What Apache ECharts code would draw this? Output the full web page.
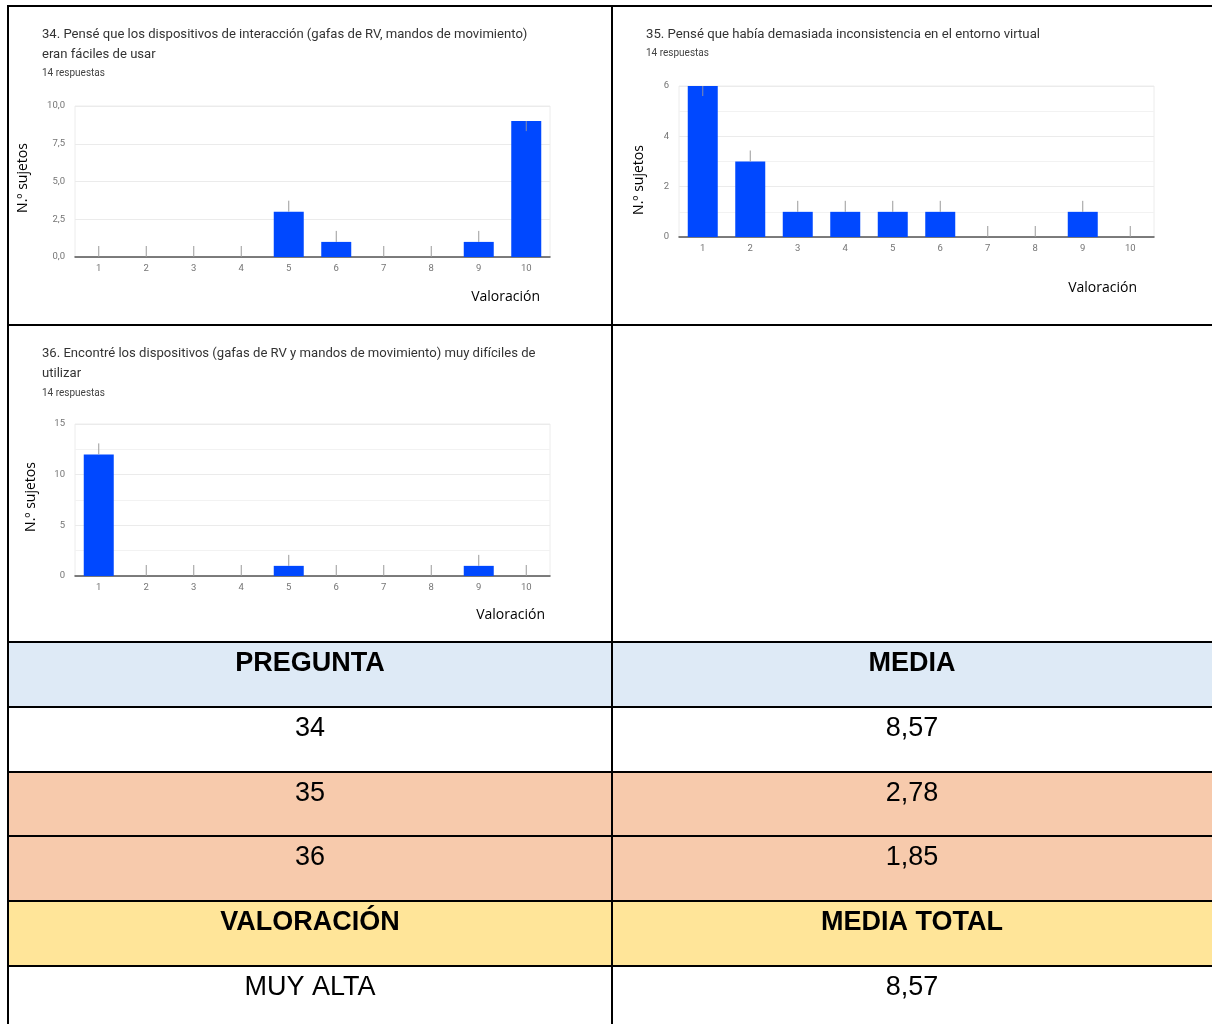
<!DOCTYPE html>
<html>
<head>
<meta charset="utf-8">
<script src="https://cdn.jsdelivr.net/npm/echarts@6/dist/echarts.min.js"></script>
<style>
  html, body { margin: 0; padding: 0; background: #fff; }
  #main { width: 1212px; height: 1024px; }
</style>
</head>
<body>
<div id="main"></div>
<script>
// Datos
const categories = ["1", "2", "3", "4", "5", "6", "7", "8", "9", "10"];
const values34 = [0, 0, 0, 0, 3, 1, 0, 0, 1, 9];
const values35 = [6, 3, 1, 1, 1, 1, 0, 0, 1, 0];
const values36 = [12, 0, 0, 0, 1, 0, 0, 0, 1, 0];

const titles34 = ["34. Pensé que los dispositivos de interacción (gafas de RV, mandos de movimiento)", "eran fáciles de usar"];
const titles35 = ["35. Pensé que había demasiada inconsistencia en el entorno virtual"];
const titles36 = ["36. Encontré los dispositivos (gafas de RV y mandos de movimiento) muy difíciles de", "utilizar"];
const responses = "14 respuestas";
const yName = "N.º sujetos";
const xName = "Valoración";

const tableHeader = ["PREGUNTA", "MEDIA"];
const preguntas = ["34", "35", "36"];
const medias = ["8,57", "2,78", "1,85"];
const totalHeader = ["VALORACIÓN", "MEDIA TOTAL"];
const totalRow = ["MUY ALTA", "8,57"];

const BLUE = "#0048ff";
const chartFont = "Roboto, 'Noto Sans', sans-serif";
const docFont = "'Liberation Sans', Arial, sans-serif";

// Griglie dei tre grafici
const grids = [
  { left: 75, top: 106, width: 475, height: 151, show: true, borderColor: "#ececec", borderWidth: 1 },
  { left: 679, top: 86, width: 475, height: 151, show: true, borderColor: "#ececec", borderWidth: 1 },
  { left: 75, top: 424, width: 475, height: 152, show: true, borderColor: "#ececec", borderWidth: 1 }
];

function xAxisFor(gridIndex) {
  return {
    type: "category",
    gridIndex,
    data: categories,
    axisTick: { show: false },
    axisLine: { lineStyle: { color: "#555", width: 1.5 } },
    axisLabel: { color: "#757575", fontSize: 9.5, fontFamily: chartFont, margin: 7 }
  };
}

function yAxisFor(gridIndex, max, interval, formatter, minor) {
  return {
    type: "value",
    gridIndex,
    min: 0,
    max,
    interval,
    axisLine: { show: false },
    axisTick: { show: false },
    axisLabel: { color: "#757575", fontSize: 9.5, fontFamily: chartFont, margin: 10, formatter },
    splitLine: { lineStyle: { color: "#ebebeb", width: 1 } },
    minorTick: { show: false, splitNumber: 2 },
    minorSplitLine: { show: minor, lineStyle: { color: "#f2f2f2", width: 1 } }
  };
}

function barSeries(idx, data) {
  return {
    type: "bar",
    xAxisIndex: idx,
    yAxisIndex: idx,
    data,
    barWidth: 30,
    itemStyle: { color: BLUE },
    z: 2
  };
}

// piccoli segni verticali sopra ogni colonna
function stemSeries(idx, data, max) {
  return {
    type: "custom",
    xAxisIndex: idx,
    yAxisIndex: idx,
    data: data.map((v, i) => [i, v]),
    encode: { x: 0, y: 1 },
    z: 3,
    silent: true,
    renderItem: (params, api) => {
      const v = api.value(1);
      const p = api.coord([api.value(0), v]);
      const down = v >= max * 0.9;
      const len = down ? 10 : 11;
      return {
        type: "line",
        shape: { x1: p[0], y1: p[1], x2: p[0], y2: down ? p[1] + len : p[1] - len },
        style: { stroke: down ? "rgba(150,150,160,0.9)" : "#9a9a9a", lineWidth: 1 }
      };
    }
  };
}

// Testi dei grafici
function chartTexts(x, titleLines, titleSize, titleY, respY, yTitle, xTitle) {
  const out = [];
  titleLines.forEach((t, i) => {
    out.push({
      type: "text", x, y: titleY + i * 20,
      style: { text: t, fontSize: titleSize, fontFamily: chartFont, fill: "#333", verticalAlign: "middle" }
    });
  });
  out.push({
    type: "text", x, y: respY,
    style: { text: responses, fontSize: 10, fontFamily: chartFont, fill: "#444", verticalAlign: "middle" }
  });
  out.push({
    type: "text", x: yTitle[0], y: yTitle[1], rotation: Math.PI / 2,
    style: { text: yName, fontSize: 14, fontFamily: "'Open Sans', sans-serif", fill: "#000", align: "center", verticalAlign: "middle" }
  });
  out.push({
    type: "text", x: xTitle[0], y: xTitle[1],
    style: { text: xName, fontSize: 14, fontFamily: "'Open Sans', sans-serif", fill: "#000", align: "right", verticalAlign: "middle" }
  });
  return out;
}

// Tabella
const colX = [8, 612, 1212];
const rowY = [642, 707, 772, 836, 901, 966, 1030];
const rowFill = ["#deeaf6", "#ffffff", "#f7caac", "#f7caac", "#ffe599", "#ffffff"];
const rowText = [
  { cells: tableHeader, bold: true },
  { cells: [preguntas[0], medias[0]], bold: false },
  { cells: [preguntas[1], medias[1]], bold: false },
  { cells: [preguntas[2], medias[2]], bold: false },
  { cells: totalHeader, bold: true },
  { cells: totalRow, bold: false }
];

const tableGraphics = [];
rowText.forEach((row, r) => {
  tableGraphics.push({
    type: "rect", z: 0,
    shape: { x: colX[0], y: rowY[r], width: colX[2] - colX[0], height: rowY[r + 1] - rowY[r] },
    style: { fill: rowFill[r] }
  });
  row.cells.forEach((txt, c) => {
    tableGraphics.push({
      type: "text", z: 5,
      x: (colX[c] + colX[c + 1]) / 2, y: rowY[r] + 22,
      style: {
        text: txt, fontSize: 27, fontWeight: row.bold ? "bold" : "normal",
        fontFamily: docFont, fill: "#000", align: "center", verticalAlign: "middle"
      }
    });
  });
});

function hLine(x1, x2, y) {
  return { type: "line", z: 10, shape: { x1, y1: y, x2, y2: y }, style: { stroke: "#000", lineWidth: 2 } };
}
function vLine(x, y1, y2) {
  return { type: "line", z: 10, shape: { x1: x, y1, x2: x, y2 }, style: { stroke: "#000", lineWidth: 2 } };
}

const borders = [
  hLine(7, 1212, 6),
  vLine(8, 5, 1024),
  vLine(612, 5, 1024),
  hLine(7, 1212, 325)
];
rowY.slice(0, 6).forEach(y => borders.push(hLine(7, 1212, y)));

const chart = echarts.init(document.getElementById("main"));
chart.setOption({
  animation: false,
  backgroundColor: "#fff",
  grid: grids,
  xAxis: [xAxisFor(0), xAxisFor(1), xAxisFor(2)],
  yAxis: [
    yAxisFor(0, 10, 2.5, v => v.toFixed(1).replace(".", ","), false),
    yAxisFor(1, 6, 2, v => String(v), true),
    yAxisFor(2, 15, 5, v => String(v), true)
  ],
  series: [
    barSeries(0, values34), stemSeries(0, values34, 10),
    barSeries(1, values35), stemSeries(1, values35, 6),
    barSeries(2, values36), stemSeries(2, values36, 15)
  ],
  graphic: [
    ...tableGraphics,
    ...chartTexts(42, titles34, 13.1, 35, 73, [23, 178], [540, 297]),
    ...chartTexts(646, titles35, 13.2, 35, 53, [639, 180], [1137, 288]),
    ...chartTexts(42, titles36, 13.1, 354, 393, [31, 497], [545, 615]),
    ...borders
  ]
});
</script>
</body>
</html>
